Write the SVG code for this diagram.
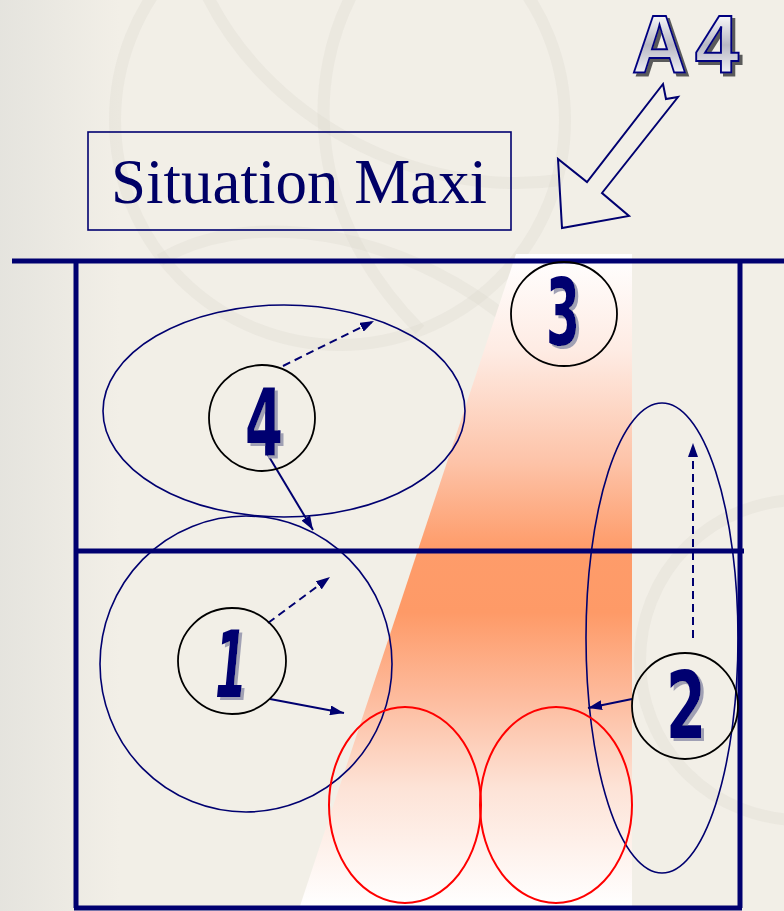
<svg xmlns="http://www.w3.org/2000/svg" width="784" height="911" viewBox="0 0 784 911">
  <defs>
    <linearGradient id="zone" x1="0" y1="254" x2="0" y2="906" gradientUnits="userSpaceOnUse">
      <stop offset="0" stop-color="#ffffff"/>
      <stop offset="0.15" stop-color="#feebe3"/>
      <stop offset="0.32" stop-color="#fdc3a8"/>
      <stop offset="0.45" stop-color="#fe9c6a"/>
      <stop offset="0.55" stop-color="#fe9a67"/>
      <stop offset="0.68" stop-color="#fdbb9d"/>
      <stop offset="0.82" stop-color="#fde3d7"/>
      <stop offset="1" stop-color="#ffffff"/>
    </linearGradient>
    <linearGradient id="a4fill" x1="0" y1="12" x2="0" y2="72" gradientUnits="userSpaceOnUse">
      <stop offset="0" stop-color="#ffffff"/>
      <stop offset="0.55" stop-color="#b8b8c4"/>
      <stop offset="1" stop-color="#eeeef2"/>
    </linearGradient>
    <linearGradient id="leftshade" x1="0" y1="0" x2="1" y2="0">
      <stop offset="0" stop-color="#dcdcd8" stop-opacity="0.6"/>
      <stop offset="1" stop-color="#dcdcd8" stop-opacity="0"/>
    </linearGradient>
    <filter id="sh-a4" filterUnits="userSpaceOnUse" x="600" y="0" width="184" height="100">
      <feDropShadow dx="3" dy="3" stdDeviation="0" flood-color="#5a5a5a" flood-opacity="1"/>
    </filter>
    <filter id="sh-digit" x="-60%" y="-60%" width="220%" height="220%">
      <feDropShadow dx="3" dy="3" stdDeviation="0.5" flood-color="#a0a0b4" flood-opacity="1"/>
    </filter>
    <marker id="ah" viewBox="0 0 14 10" refX="14" refY="5" markerWidth="14" markerHeight="10" markerUnits="userSpaceOnUse" orient="auto">
      <path d="M0,0 L14,5 L0,10 Z" fill="#000070"/>
    </marker>
  </defs>
  <style>
    .court { stroke: #000070; stroke-width: 5; fill: none; }
    .zone-ell { fill: none; stroke: #000070; stroke-width: 1.6; }
    .block { fill: none; stroke: #ff0000; stroke-width: 2; }
    .player { fill: none; stroke: #000000; stroke-width: 1.8; }
    .digit { font-family: "DejaVu Sans", sans-serif; font-weight: bold; font-size: 92px; text-anchor: middle; fill: #000070; filter: url(#sh-digit); }
    .a4 { font-family: "Liberation Sans", sans-serif; font-weight: bold; font-size: 82px; fill: url(#a4fill); stroke: #000080; stroke-width: 2; filter: url(#sh-a4); }
    .move { stroke: #000070; stroke-width: 2; fill: none; marker-end: url(#ah); }
    .dash { stroke-dasharray: 8 5; }
    .wm { fill: none; stroke: #dcd7ce; stroke-width: 12; opacity: 0.3; }
  </style>

  <!-- background -->
  <rect x="0" y="0" width="784" height="911" fill="#f2efe7"/>
  <rect x="0" y="0" width="120" height="911" fill="url(#leftshade)"/>
  <g id="watermark">
    <circle class="wm" cx="340" cy="120" r="225"/>
    <path class="wm" d="M200,-20 C260,120 420,200 560,180"/>
    <path class="wm" d="M160,260 C260,200 420,240 520,330"/>
    <path class="wm" d="M360,-20 C300,80 310,220 420,330"/>
    <circle class="wm" cx="800" cy="660" r="160"/>
  </g>

  <!-- attack zone -->
  <polygon id="zone-fill" points="516,254 632,254 632,906 300,906" fill="url(#zone)"/>

  <!-- court -->
  <g id="court">
    <line class="court" x1="12" y1="261" x2="784" y2="261"/>
    <line class="court" x1="76" y1="261" x2="76" y2="908"/>
    <line class="court" x1="740" y1="261" x2="740" y2="908"/>
    <line class="court" x1="74" y1="908" x2="742" y2="908"/>
    <line class="court" x1="74" y1="551" x2="744" y2="551"/>
  </g>

  <!-- title -->
  <g id="title">
    <rect x="88" y="132" width="423" height="98" fill="none" stroke="#000070" stroke-width="1.6"/>
    <text x="299" y="203" font-family="Liberation Serif, serif" font-size="63" text-anchor="middle" fill="#000066">Situation Maxi</text>
  </g>

  <!-- A4 label -->
  <g id="a4">
    <text class="a4" x="632" y="72" textLength="55" lengthAdjust="spacingAndGlyphs">A</text>
    <text class="a4" x="695" y="72" textLength="44" lengthAdjust="spacingAndGlyphs">4</text>
  </g>
  <g id="a4-arrow">
    <polygon points="663,84 666,99 678,97 602,193 629,216 562,228 558,159 587,182" fill="none" stroke="#000070" stroke-width="2" stroke-linejoin="miter"/>
  </g>

  <!-- zones / blocks -->
  <g id="zone-4"><ellipse class="zone-ell" cx="284" cy="411" rx="181" ry="106"/></g>
  <g id="zone-1"><ellipse class="zone-ell" cx="246" cy="664" rx="146" ry="148"/></g>
  <g id="zone-2"><ellipse class="zone-ell" cx="662" cy="638" rx="76" ry="235"/></g>
  <g id="block-left"><ellipse class="block" cx="405" cy="805" rx="76" ry="98"/></g>
  <g id="block-right"><ellipse class="block" cx="556" cy="805" rx="76" ry="98"/></g>

  <!-- connectors -->
  <g id="connectors">
    <line class="move dash" x1="283" y1="366" x2="374" y2="321"/>
    <line class="move" x1="268" y1="455" x2="313" y2="530"/>
    <line class="move dash" x1="268" y1="623" x2="330" y2="577"/>
    <line class="move" x1="270" y1="699" x2="344" y2="713"/>
    <line class="move dash" x1="693" y1="638" x2="693" y2="443"/>
    <line class="move" x1="632" y1="699" x2="588" y2="708"/>
  </g>

  <!-- players -->
  <g id="player-4">
    <circle class="player" cx="262" cy="418" r="53"/>
    <text class="digit" x="264" y="455" textLength="38" lengthAdjust="spacingAndGlyphs">4</text>
  </g>
  <g id="player-3">
    <ellipse class="player" cx="564" cy="314" rx="53" ry="52"/>
    <text class="digit" x="563" y="345" textLength="34" lengthAdjust="spacingAndGlyphs">3</text>
  </g>
  <g id="player-1">
    <ellipse class="player" cx="232" cy="661" rx="54" ry="53"/>
    <text class="digit" x="231" y="697" textLength="32" lengthAdjust="spacingAndGlyphs" font-style="italic">1</text>
  </g>
  <g id="player-2">
    <circle class="player" cx="685" cy="706" r="53" fill="#e4e3e8" fill-opacity="0.5"/>
    <text class="digit" x="686" y="738" textLength="40" lengthAdjust="spacingAndGlyphs">2</text>
  </g>
</svg>
